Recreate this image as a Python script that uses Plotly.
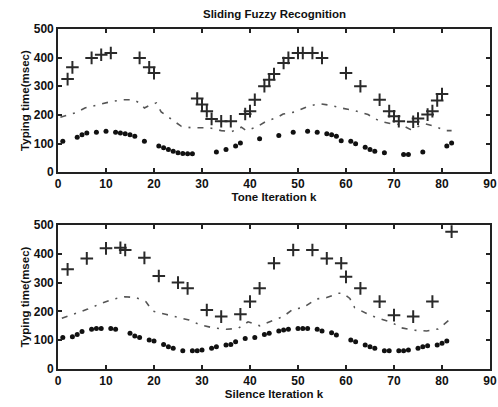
import plotly.graph_objects as go

# ---------------- Data: Tone iteration (top) ----------------
tone_plus_k = [2, 3, 7, 9, 11, 17, 19, 20, 29, 30, 31, 32, 34, 36, 39, 40, 41, 43, 44, 45,
               47, 48, 50, 51, 53, 55, 60, 63, 67, 69, 70, 71, 74, 75, 77, 78, 79, 80]
tone_plus_v = [325, 366, 399, 410, 416, 399, 366, 346, 257, 236, 213, 186, 178, 178, 203, 213,
               253, 300, 323, 343, 381, 399, 416, 416, 416, 399, 346, 300, 253, 213, 195, 178,
               176, 187, 201, 213, 250, 273]

tone_dot_k = [1, 4, 5, 6, 8, 10, 12, 13, 14, 15, 16, 18, 21, 22, 23, 24, 25, 26, 27, 28,
              33, 35, 37, 38, 42, 46, 49, 52, 54, 56, 57, 58, 59, 61, 62, 64, 65, 66, 68,
              72, 73, 76, 81, 82]
tone_dot_v = [108, 122, 131, 137, 139, 143, 139, 137, 134, 131, 125, 108, 91, 85, 79, 73, 68,
              65, 64, 64, 70, 79, 91, 102, 117, 128, 139, 143, 139, 134, 131, 125, 110, 108,
              99, 87, 79, 73, 68, 62, 62, 70, 91, 102]

tone_line_k = [0.5, 3.6, 5.6, 8.6, 11.2, 13.6, 15.6, 17, 18, 19.4, 20.5, 21.5, 23.6, 25.7,
               27.8, 29.2, 31.6, 34, 36.1, 38.2, 39.2, 41.3, 43.4, 45.5, 46.9, 49.3, 52.1,
               54.5, 56.9, 59, 61.8, 64.6, 67, 69.4, 71.5, 73.4, 75.3, 76.4, 78.5, 80.8, 82]
tone_line_v = [192, 207, 224, 236, 247, 253, 253, 242, 224, 236, 242, 210, 184, 160, 155, 155,
               155, 145, 141, 157, 145, 157, 178, 190, 203, 210, 230, 239, 233, 224, 215, 201,
               178, 169, 166, 149, 160, 169, 160, 145, 145]

# ---------------- Data: Silence iteration (bottom) ----------------
sil_plus_k = [2, 6, 10, 13, 14, 18, 21, 25, 27, 31, 34, 38, 40, 42, 45, 49, 53, 56, 59, 60,
              63, 67, 70, 74, 78, 82]
sil_plus_v = [346, 384, 419, 421, 413, 386, 323, 300, 280, 205, 182, 190, 234, 280, 367, 413,
              413, 384, 367, 320, 280, 234, 187, 182, 234, 477]

sil_dot_k = [1, 3, 4, 5, 7, 8, 9, 11, 12, 15, 16, 17, 19, 20, 22, 23, 24, 26, 28, 29, 30,
             32, 33, 35, 36, 37, 39, 41, 43, 44, 46, 47, 48, 50, 51, 52, 54, 55, 57, 58,
             61, 62, 64, 65, 66, 68, 69, 71, 72, 73, 75, 76, 77, 79, 80, 81]
sil_dot_v = [109, 112, 120, 130, 138, 141, 141, 141, 138, 124, 115, 109, 101, 97, 85, 77, 72,
             63, 63, 63, 66, 72, 77, 83, 85, 95, 106, 109, 120, 124, 132, 135, 138, 141, 141,
             141, 138, 132, 126, 118, 101, 95, 83, 77, 72, 63, 63, 63, 63, 66, 72, 77, 81,
             83, 89, 97]

sil_line_k = [0.8, 2.8, 4.2, 6.2, 9.3, 11.7, 13.9, 16.2, 18.3, 19.7, 22.4, 25.2, 27.3, 29.7,
              32.3, 35.1, 37.5, 39.6, 42, 44.5, 46.9, 49, 51.1, 53.8, 56, 58.4, 59.4, 60.8,
              61.8, 64.3, 66.7, 69.5, 71.5, 74, 76.8, 79.2, 81.3, 81.8]
sil_line_v = [176, 188, 197, 208, 230, 243, 251, 248, 234, 201, 190, 178, 170, 153, 143, 138,
              141, 164, 150, 167, 182, 208, 213, 243, 248, 263, 263, 245, 213, 193, 176, 162,
              143, 135, 132, 139, 167, 174]

x_ticks = [0, 10, 20, 30, 40, 50, 60, 70, 80, 90]
y_ticks = [0, 100, 200, 300, 400, 500]

title_text = "Sliding Fuzzy Recognition"
x_title_top = "Tone Iteration k"
x_title_bottom = "Silence Iteration k"
y_title = "Typing time(msec)"

# ---------------- Figure ----------------
FONT = "Arial, Liberation Sans, sans-serif"
fig = go.Figure()


def add_panel(xa, ya, pk, pv, dk, dv, lk, lv):
    fig.add_trace(go.Scatter(x=lk, y=lv, mode="lines", xaxis=xa, yaxis=ya,
                             line=dict(color="#555555", width=1.6, dash="6px,7px,2px,7px"),
                             hoverinfo="skip", showlegend=False))
    fig.add_trace(go.Scatter(x=pk, y=pv, mode="markers", xaxis=xa, yaxis=ya,
                             marker=dict(symbol="cross-thin", size=9,
                                         line=dict(color="#2a2a2a", width=2)),
                             showlegend=False))
    fig.add_trace(go.Scatter(x=dk, y=dv, mode="markers", xaxis=xa, yaxis=ya,
                             marker=dict(symbol="circle", size=5, color="#111111"),
                             showlegend=False))


add_panel("x", "y", tone_plus_k, tone_plus_v, tone_dot_k, tone_dot_v, tone_line_k, tone_line_v)
add_panel("x2", "y2", sil_plus_k, sil_plus_v, sil_dot_k, sil_dot_v, sil_line_k, sil_line_v)

tickfont = dict(family=FONT, size=12, color="#111111", weight="bold")
titlefont = dict(family=FONT, size=11.5, color="#111111", weight="bold")

common_x = dict(range=[0, 90], tickvals=x_ticks, ticks="inside", ticklen=4, tickwidth=1.5,
                tickcolor="#222222", showline=True, linecolor="#222222", linewidth=1.6,
                mirror="ticks", showgrid=False, zeroline=False, tickfont=tickfont,
                automargin=False, ticklabeloverflow="allow")
common_y = dict(range=[0, 500], tickvals=y_ticks, ticks="inside", ticklen=4, tickwidth=1.5,
                tickcolor="#222222", showline=True, linecolor="#222222", linewidth=1.6,
                mirror="ticks", showgrid=False, zeroline=False, tickfont=tickfont,
                automargin=False)

fig.update_layout(
    width=498, height=407,
    margin=dict(l=58, r=8, t=29, b=38),
    paper_bgcolor="white", plot_bgcolor="white",
    showlegend=False,
    xaxis=dict(domain=[0, 1], anchor="y",
               title=dict(text=x_title_top, font=titlefont, standoff=2), **common_x),
    yaxis=dict(domain=[0.579, 1], anchor="x",
               title=dict(text=y_title, font=titlefont, standoff=2), **common_y),
    xaxis2=dict(domain=[0, 1], anchor="y2",
                title=dict(text=x_title_bottom, font=titlefont, standoff=2), **common_x),
    yaxis2=dict(domain=[0, 0.4235], anchor="x2",
                title=dict(text=y_title, font=titlefont, standoff=2), **common_y),
    annotations=[dict(text=title_text, x=0.5, y=1, xref="paper", yref="paper",
                      xanchor="center", yanchor="bottom", yshift=7, showarrow=False,
                      font=dict(family=FONT, size=11.5, color="#111111", weight="bold"))],
)

# remove the default 8px page margin so the figure fills the window exactly
fig.write_html("out.html",
               config={"displayModeBar": False},
               post_script="document.body.style.margin='0';"
                           "document.body.style.overflow='hidden';")
